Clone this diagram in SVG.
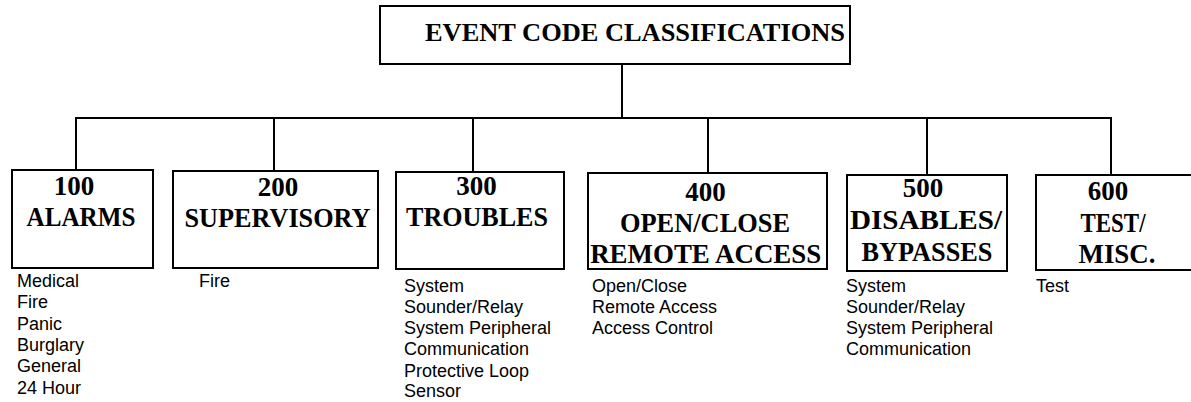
<svg xmlns="http://www.w3.org/2000/svg" width="1191" height="402" viewBox="0 0 1191 402">
<style>
rect.box{fill:#fff;stroke:#000;stroke-width:2}
.conn line{stroke:#000;stroke-width:2}
.hd{font-family:"Liberation Serif","Times New Roman",serif;font-weight:bold;font-size:27px;fill:#000;text-anchor:middle}
.ti{font-family:"Liberation Serif","Times New Roman",serif;font-weight:bold;font-size:26px;fill:#000}
.lb{font-family:"Liberation Sans",Arial,sans-serif;font-size:18px;fill:#000}
</style>
<rect width="1191" height="402" fill="#fff"/>
<g class="conn" id="connectors">
<line x1="622" y1="64" x2="622" y2="118"/>
<line x1="75" y1="118" x2="1112" y2="118"/>
<line x1="76" y1="118" x2="76" y2="170"/>
<line x1="274" y1="118" x2="274" y2="171"/>
<line x1="473" y1="118" x2="473" y2="172"/>
<line x1="708" y1="118" x2="708" y2="173"/>
<line x1="927" y1="118" x2="927" y2="175"/>
<line x1="1111" y1="118" x2="1111" y2="175"/>
</g>
<g id="title">
<rect class="box" x="380" y="6" width="470" height="58"/>
<text class="ti" x="425" y="41" textLength="420" lengthAdjust="spacingAndGlyphs">EVENT CODE CLASSIFICATIONS</text>
</g>
<g id="n100">
<rect class="box" x="12" y="170" width="141" height="98"/>
<text class="hd" x="74" y="195">100</text>
<text class="hd" x="81" y="226" textLength="109" lengthAdjust="spacingAndGlyphs">ALARMS</text>
<text class="lb" x="17" y="287">Medical</text>
<text class="lb" x="17" y="308">Fire</text>
<text class="lb" x="17" y="329.5">Panic</text>
<text class="lb" x="17" y="351">Burglary</text>
<text class="lb" x="17" y="372">General</text>
<text class="lb" x="17" y="393.5">24 Hour</text>
</g>
<g id="n200">
<rect class="box" x="173" y="171" width="205" height="97"/>
<text class="hd" x="278" y="196">200</text>
<text class="hd" x="277.5" y="227" textLength="186" lengthAdjust="spacingAndGlyphs">SUPERVISORY</text>
<text class="lb" x="199" y="287">Fire</text>
</g>
<g id="n300">
<rect class="box" x="396" y="172" width="168" height="97"/>
<text class="hd" x="476.5" y="195">300</text>
<text class="hd" x="477" y="226" textLength="142" lengthAdjust="spacingAndGlyphs">TROUBLES</text>
<text class="lb" x="404" y="292">System</text>
<text class="lb" x="404" y="313">Sounder/Relay</text>
<text class="lb" x="404" y="334">System Peripheral</text>
<text class="lb" x="404" y="355">Communication</text>
<text class="lb" x="404" y="376.5">Protective Loop</text>
<text class="lb" x="404" y="397">Sensor</text>
</g>
<g id="n400">
<rect class="box" x="588" y="173" width="239" height="96"/>
<text class="hd" x="705.5" y="201">400</text>
<text class="hd" x="705" y="232" textLength="170" lengthAdjust="spacingAndGlyphs">OPEN/CLOSE</text>
<text class="hd" x="705.7" y="263" textLength="231" lengthAdjust="spacingAndGlyphs">REMOTE ACCESS</text>
<text class="lb" x="592" y="292">Open/Close</text>
<text class="lb" x="592" y="313">Remote Access</text>
<text class="lb" x="592" y="334">Access Control</text>
</g>
<g id="n500">
<rect class="box" x="847" y="175" width="160" height="96"/>
<text class="hd" x="923" y="197">500</text>
<text class="hd" x="926" y="229" textLength="152" lengthAdjust="spacingAndGlyphs">DISABLES/</text>
<text class="hd" x="927" y="261" textLength="131" lengthAdjust="spacingAndGlyphs">BYPASSES</text>
<text class="lb" x="846" y="292">System</text>
<text class="lb" x="846" y="313">Sounder/Relay</text>
<text class="lb" x="846" y="334">System Peripheral</text>
<text class="lb" x="846" y="355">Communication</text>
</g>
<g id="n600">
<rect class="box" x="1036" y="175" width="160" height="95"/>
<text class="hd" x="1108" y="200">600</text>
<text class="hd" x="1113" y="232" textLength="65" lengthAdjust="spacingAndGlyphs">TEST/</text>
<text class="hd" x="1117" y="263" textLength="77" lengthAdjust="spacingAndGlyphs">MISC.</text>
<text class="lb" x="1036" y="292">Test</text>
</g>
</svg>
